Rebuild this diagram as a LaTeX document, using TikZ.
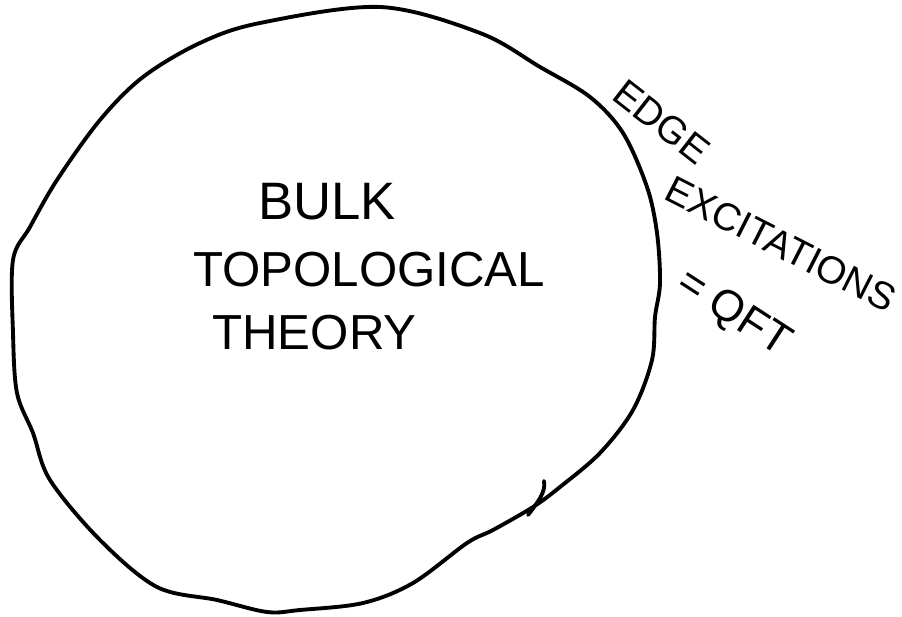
\documentclass[tikz,border=0pt]{standalone}
\usepackage{fontspec}
\setmainfont{Liberation Sans}
\usetikzlibrary{positioning}
\tikzset{
  outline/.style={draw=black,line width=2.2pt,line cap=round,line join=round},
  bulklabel/.style={anchor=base west,inner sep=0pt,font=\fontsize{28}{28}\selectfont},
  edgelabel/.style={anchor=center,inner sep=0pt,font=\fontsize{22}{22}\selectfont}
}

\begin{document}
\begin{tikzpicture}[x=0.02cm,y=-0.02cm]
      \useasboundingbox (0,0) rectangle (902,617);
      % hand-drawn boundary of the bulk
      \draw[outline] plot[smooth cycle,tension=0.55] coordinates {
        (380,7) (480,33) (540,67) (590,97) (623,133) (647,187) (657,233)
        (660,283) (655,317) (652,360) (633,410) (600,453) (560,487)
        (533,507) (493,530) (467,543) (413,583) (363,603) (300,610)
        (267,612) (217,600) (157,587) (100,540) (50,480) (33,433)
        (17,393) (13,333) (13,260) (30,227) (57,180) (100,120) (143,77)
        (200,43) (260,23)};
      \draw[outline] (528,515) .. controls (538,502) and (546,492) .. (544,481);
      \node[bulklabel,font=\fontsize{30}{30}\selectfont] (bulk) at (258,220) {BULK};
      \node[bulklabel] (topo) at (193,287) {TOPOLOGICAL};
      \node[bulklabel] (theory) at (212,350) {THEORY};
      \node[edgelabel,rotate=-38] (edge) at (662,122) {EDGE};
      \node[edgelabel,rotate=-27] (excit) at (781,244) {EXCITATIONS};
      \node[edgelabel,rotate=-33,font=\fontsize{25}{25}\selectfont] (qft) at (733,314) {= QFT};
    \end{tikzpicture}
\end{document}
